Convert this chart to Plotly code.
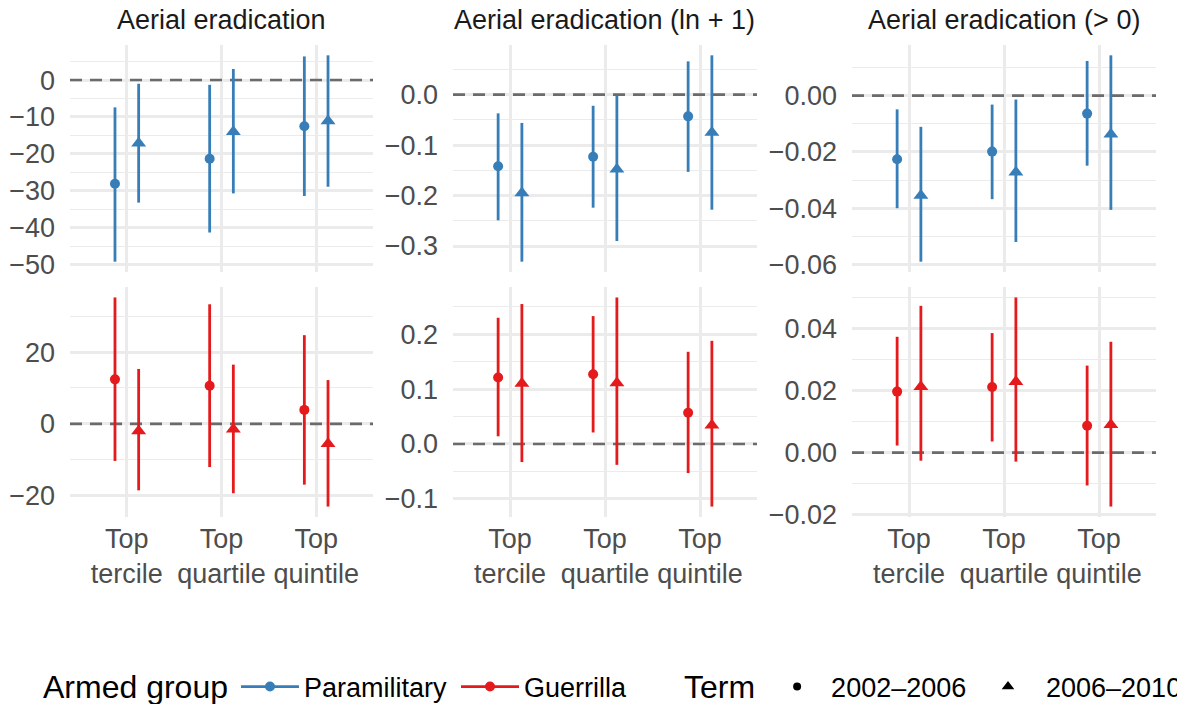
import plotly.graph_objects as go

# ---------------- data ----------------
categories = ["Top<br>tercile", "Top<br>quartile", "Top<br>quintile"]
outcomes = ["Aerial eradication", "Aerial eradication (ln + 1)", "Aerial eradication (> 0)"]
groups = ["Paramilitary", "Guerrilla"]
terms = ["2002–2006", "2006–2010"]

# Aerial eradication
para_ae_0206_est = [-28.1, -21.3, -12.5]
para_ae_0206_lo = [-49.2, -41.3, -31.4]
para_ae_0206_hi = [-7.4, -1.3, 6.4]
para_ae_0610_est = [-17.1, -14.0, -11.1]
para_ae_0610_lo = [-33.2, -30.7, -28.9]
para_ae_0610_hi = [-1.0, 3.0, 6.7]
guer_ae_0206_est = [12.4, 10.6, 3.9]
guer_ae_0206_lo = [-10.3, -12.0, -16.9]
guer_ae_0206_hi = [35.2, 33.3, 24.7]
guer_ae_0610_est = [-2.0, -1.5, -5.5]
guer_ae_0610_lo = [-18.5, -19.3, -23.0]
guer_ae_0610_hi = [15.3, 16.5, 12.2]

# Aerial eradication (ln + 1)
para_ln_0206_est = [-0.142, -0.123, -0.043]
para_ln_0206_lo = [-0.249, -0.224, -0.153]
para_ln_0206_hi = [-0.037, -0.022, 0.066]
para_ln_0610_est = [-0.195, -0.148, -0.075]
para_ln_0610_lo = [-0.331, -0.290, -0.228]
para_ln_0610_hi = [-0.056, -0.001, 0.078]
guer_ln_0206_est = [0.121, 0.127, 0.057]
guer_ln_0206_lo = [0.014, 0.021, -0.053]
guer_ln_0206_hi = [0.230, 0.233, 0.168]
guer_ln_0610_est = [0.110, 0.111, 0.034]
guer_ln_0610_lo = [-0.033, -0.038, -0.114]
guer_ln_0610_hi = [0.255, 0.267, 0.188]

# Aerial eradication (> 0)
para_gt_0206_est = [-0.0226, -0.0199, -0.0064]
para_gt_0206_lo = [-0.0400, -0.0368, -0.0249]
para_gt_0206_hi = [-0.0049, -0.0032, 0.0123]
para_gt_0610_est = [-0.0355, -0.0272, -0.0137]
para_gt_0610_lo = [-0.0590, -0.0520, -0.0406]
para_gt_0610_hi = [-0.0111, -0.0014, 0.0143]
guer_gt_0206_est = [0.0197, 0.0212, 0.0087]
guer_gt_0206_lo = [0.0023, 0.0036, -0.0106]
guer_gt_0206_hi = [0.0374, 0.0386, 0.0281]
guer_gt_0610_est = [0.0213, 0.0229, 0.0090]
guer_gt_0610_lo = [-0.0026, -0.0029, -0.0174]
guer_gt_0610_hi = [0.0474, 0.0501, 0.0358]

# ---------------- style ----------------
COLORS = {"Paramilitary": "#377EB8", "Guerrilla": "#E41A1C"}
SYMBOLS = {"2002–2006": "circle", "2006–2010": "triangle-up"}
MSIZE = {"2002–2006": 10, "2006–2010": 13}
DODGE = {"2002–2006": -0.125, "2006–2010": 0.125}
FONT = "Liberation Sans, Arial, Helvetica, sans-serif"
GRID = "#EBEBEB"
TXT = 27
LEGTXT = 27
XRANGE = [0.4, 3.6]

W, H = 1177, 704
col_px = [(70, 373), (453, 757), (852, 1156)]
row_px = [(45, 272), (287, 517)]

panels = {
    (0, 0): ("Paramilitary", [(para_ae_0206_est, para_ae_0206_lo, para_ae_0206_hi), (para_ae_0610_est, para_ae_0610_lo, para_ae_0610_hi)], 10, ""),
    (0, 1): ("Paramilitary", [(para_ln_0206_est, para_ln_0206_lo, para_ln_0206_hi), (para_ln_0610_est, para_ln_0610_lo, para_ln_0610_hi)], 0.1, ".1f"),
    (0, 2): ("Paramilitary", [(para_gt_0206_est, para_gt_0206_lo, para_gt_0206_hi), (para_gt_0610_est, para_gt_0610_lo, para_gt_0610_hi)], 0.02, ".2f"),
    (1, 0): ("Guerrilla", [(guer_ae_0206_est, guer_ae_0206_lo, guer_ae_0206_hi), (guer_ae_0610_est, guer_ae_0610_lo, guer_ae_0610_hi)], 20, ""),
    (1, 1): ("Guerrilla", [(guer_ln_0206_est, guer_ln_0206_lo, guer_ln_0206_hi), (guer_ln_0610_est, guer_ln_0610_lo, guer_ln_0610_hi)], 0.1, ".1f"),
    (1, 2): ("Guerrilla", [(guer_gt_0206_est, guer_gt_0206_lo, guer_gt_0206_hi), (guer_gt_0610_est, guer_gt_0610_lo, guer_gt_0610_hi)], 0.02, ".2f"),
}

fig = go.Figure()
layout = {}
shapes = []
annotations = []

xpos = list(range(1, len(categories) + 1))

for (r, c), (grp, series, dtick, fmt) in panels.items():
    n = r * 3 + c + 1
    sfx = "" if n == 1 else str(n)
    xa, ya = "x" + sfx, "y" + sfx
    allv = [0]
    for (est, lo, hi), term in zip(series, terms):
        allv += lo + hi
        fig.add_trace(go.Scatter(
            x=[p + DODGE[term] for p in xpos], y=est, xaxis=xa, yaxis=ya,
            mode="markers", showlegend=False,
            marker=dict(color=COLORS[grp], symbol=SYMBOLS[term], size=MSIZE[term], line=dict(width=0)),
            error_y=dict(type="data", symmetric=False,
                         array=[h - e for h, e in zip(hi, est)],
                         arrayminus=[e - l for e, l in zip(est, lo)],
                         width=0, thickness=2.8, color=COLORS[grp]),
        ))
    vmin, vmax = min(allv), max(allv)
    pad = (vmax - vmin) * 0.05
    x0, x1 = col_px[c]
    y0, y1 = row_px[r]
    layout["xaxis" + sfx] = dict(
        domain=[x0 / W, x1 / W], anchor=ya, range=XRANGE,
        tickvals=xpos, ticktext=categories, showticklabels=(r == 1),
        showgrid=True, gridcolor=GRID, gridwidth=2.6, zeroline=False, showline=False,
        ticks="", ticklabelstandoff=3, tickfont=dict(family=FONT, size=TXT, color="#4D4D4D"),
    )
    layout["yaxis" + sfx] = dict(
        domain=[1 - y1 / H, 1 - y0 / H], anchor=xa, range=[vmin - pad, vmax + pad],
        tick0=0, dtick=dtick, tickformat=fmt,
        showgrid=True, gridcolor=GRID, gridwidth=2.6, zeroline=False, showline=False,
        ticks="", ticklabelstandoff=14, tickfont=dict(family=FONT, size=TXT, color="#4D4D4D"),
        minor=dict(tick0=0, dtick=dtick / 2, showgrid=True, gridcolor=GRID, gridwidth=1.3, ticks=""),
    )
    shapes.append(dict(type="line", xref=xa, x0=XRANGE[0], x1=XRANGE[1], yref=ya, y0=0, y1=0,
                       line=dict(color="#6B6B6B", width=2.6, dash="12px,8px"), layer="between"))
    if r == 0:
        annotations.append(dict(text=outcomes[c], xref="paper", yref="paper",
                                x=(x0 + x1) / 2 / W, y=1 - 20 / H, xanchor="center", yanchor="middle",
                                showarrow=False, font=dict(family=FONT, size=TXT, color="#1A1A1A")))

# legend entries
leg_names = ["legend", "legend2", "legend3", "legend4"]
for g, lg in zip(groups, leg_names[:2]):
    fig.add_trace(go.Scatter(x=[None], y=[None], mode="lines+markers", name=g, legend=lg,
                             line=dict(color=COLORS[g], width=2.8),
                             marker=dict(color=COLORS[g], size=10, symbol="circle")))
for t, lg in zip(terms, leg_names[2:]):
    fig.add_trace(go.Scatter(x=[None], y=[None], mode="markers", name=t, legend=lg,
                             marker=dict(color="black", size=8 if t == terms[0] else 11, symbol=SYMBOLS[t])))

leg_common = dict(orientation="h", yanchor="middle", y=1 - 687 / H, xanchor="left",
                  font=dict(family=FONT, size=LEGTXT, color="#000000"), bgcolor="rgba(0,0,0,0)",
                  borderwidth=0)
TITLEFONT = dict(family=FONT, size=LEGTXT, color="#000000")


def big(txt):
    return '<span style="font-size:32px">' + txt + "</span>"


layout["legend"] = dict(leg_common, x=41 / W, itemwidth=58,
                        title=dict(text=big("Armed group"), side="left", font=TITLEFONT))
layout["legend2"] = dict(leg_common, x=456 / W, itemwidth=58)
layout["legend3"] = dict(leg_common, x=682 / W, itemwidth=58,
                         title=dict(text=big("Term"), side="left", font=TITLEFONT))
layout["legend4"] = dict(leg_common, x=970 / W, itemwidth=66)

fig.update_layout(
    width=W, height=H, margin=dict(l=0, r=0, t=0, b=0, autoexpand=False),
    paper_bgcolor="white", plot_bgcolor="white",
    shapes=shapes, annotations=annotations, **layout,
)

fig.write_html("out.html")
